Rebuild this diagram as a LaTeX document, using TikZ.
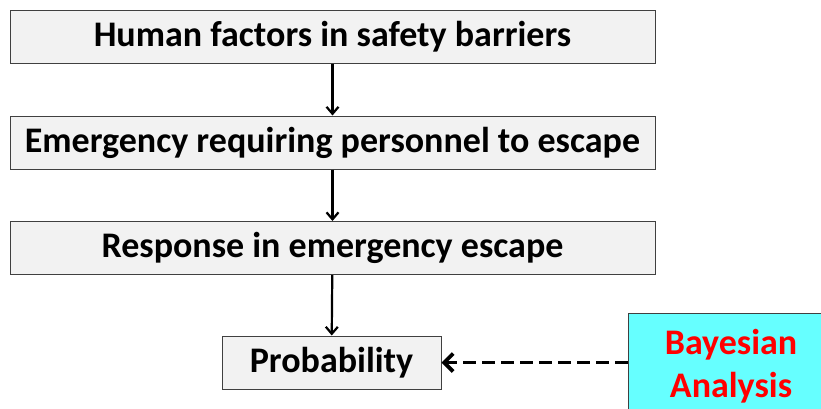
\documentclass[tikz,border=0pt]{standalone}
\usepackage{fontspec}
\setmainfont{Carlito}
\usetikzlibrary{arrows.meta}
\definecolor{boxgrey}{HTML}{F2F2F2}
\definecolor{bayescyan}{HTML}{66FFFF}
\begin{document}
\begin{tikzpicture}[x=1pt,y=-1pt,
  stage/.style={draw=black!75, fill=boxgrey, line width=1pt, inner sep=0pt,
    minimum height=53, font=\bfseries\fontsize{36}{40}\selectfont},
  link/.style={line width=2.2pt, -{Straight Barb[length=7pt,width=12pt]}},
  bayes/.style={draw=black!75, fill=bayescyan, line width=1pt, inner sep=0pt,
    minimum width=206, minimum height=106, align=center, text=red,
    font=\bfseries\fontsize{36}{43}\selectfont}]
\useasboundingbox (0,0) rectangle (821,408);
%
\node[stage, minimum width=645] (hf) at (332.5,36.5) {Human factors in safety barriers};
\node[stage, minimum width=645] (em) at (332.5,142.5) {Emergency requiring personnel to escape};
\node[stage, minimum width=645] (re) at (332.5,248) {Response in emergency escape};
\node[stage, minimum width=219] (pr) at (331.5,362.5) {Probability};
\node[bayes] (ba) at (731,366) {Bayesian\\Analysis};
%
\draw[link] (hf) -- (em);
\draw[link] (em) -- (re);
\draw[line width=3.8pt, dash pattern=on 13pt off 6pt,
  -{Straight Barb[length=9pt,width=18pt]}] (ba.west |- pr.east) -- (pr.east);
\draw[link] (re) -- (pr);
\end{tikzpicture}
\end{document}
